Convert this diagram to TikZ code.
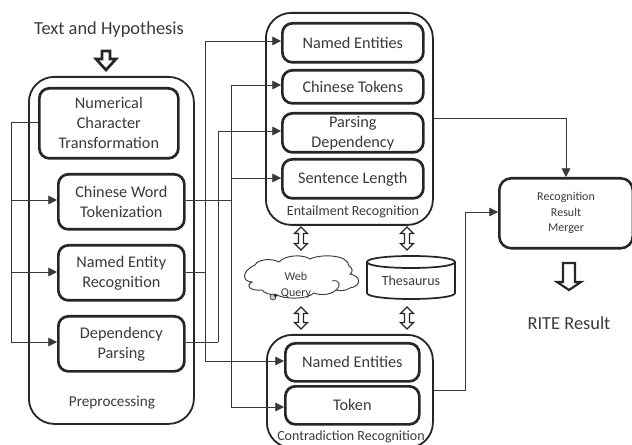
\documentclass[tikz,border=0pt]{standalone}
\usepackage{fontspec}
\setmainfont{Carlito}
\usetikzlibrary{arrows.meta}
\definecolor{ink}{HTML}{262626}
\definecolor{wire}{HTML}{383838}
\definecolor{txt}{HTML}{3A3A3A}
\tikzset{
 x=0.75pt,y=-0.75pt,
 outerbox/.style={draw=ink,line width=1.35pt,rounded corners=19pt,inner sep=0},
 innerbox/.style={draw=ink,line width=2pt,rounded corners=7.5pt,inner sep=0,text=txt,align=center,font=\fontsize{12.2}{15}\selectfont},
 merger/.style={draw=ink,line width=1.9pt,rounded corners=9pt,inner sep=0,text=txt,align=center,font=\fontsize{9}{11.6}\selectfont},
 label/.style={text=txt,inner sep=0,align=center,font=\fontsize{13.8}{16}\selectfont},
 smalllabel/.style={text=txt,inner sep=0,align=center,font=\fontsize{10.5}{12}\selectfont},
 conn/.style={draw=wire,line width=0.6pt},
 arr/.style={conn,-{Triangle[length=6.5pt,width=6.5pt]}},
}
\newcommand{\pxbox}[6]{\node[#1,minimum width=#4*0.75pt,minimum height=#5*0.75pt,anchor=north west] (#2) at (#3) {#6};}
\begin{document}
\begin{tikzpicture}
\useasboundingbox (0,0) rectangle (632,445);
% preprocessing
\pxbox{outerbox}{pre}{28,76}{165}{347}{}
\pxbox{innerbox}{num}{38,87}{139}{70}{Numerical\\Character\\Transformation}
\pxbox{innerbox}{cwt}{57,173}{126}{55}{Chinese Word\\Tokenization}
\pxbox{innerbox}{ner}{57,244}{126}{55}{Named Entity\\Recognition}
\pxbox{innerbox}{dep}{57,315}{126}{55}{Dependency\\Parsing}
\node[smalllabel,font=\fontsize{11.4}{13}\selectfont] (prel) at (112,403) {Preprocessing};
\node[label] (title) at (109,30) {Text and Hypothesis};
% entailment
\pxbox{outerbox}{ent}{265,12}{167}{212}{}
\pxbox{innerbox}{ene}{281,22}{141}{39}{Named Entities}
\pxbox{innerbox}{ect}{281,69}{141}{33}{Chinese Tokens}
\pxbox{innerbox}{epd}{281,112}{141}{39}{Parsing\\Dependency}
\pxbox{innerbox}{esl}{281,158}{141}{39}{Sentence Length}
\node[smalllabel] (entl) at (353,212) {Entailment Recognition};
% contradiction
\pxbox{outerbox}{con}{266,334}{166}{113}{}
\pxbox{innerbox}{cne}{284,342}{134}{38}{Named Entities}
\pxbox{innerbox}{cto}{284,385}{134}{38}{Token}
\node[smalllabel] (conl) at (351,437) {Contradiction Recognition};
% merger
\pxbox{merger}{mrg}{498,177}{133.5}{70}{Recognition\\Result\\Merger}
\node[label] (rite) at (569,323) {RITE Result};
% cloud
\draw[conn,fill=white,line width=0.7pt] (252,282)
 .. controls (243,282) and (240,272) .. (255,265)
 .. controls (258,259) and (272,258) .. (279,262)
 .. controls (285,255) and (303,254) .. (310,259)
 .. controls (320,254) and (348,254) .. (349,266)
 .. controls (353,268) and (353,272) .. (350,274)
 .. controls (361,276) and (362,286) .. (350,288)
 .. controls (346,291) and (340,291) .. (336,290)
 .. controls (330,296) and (318,295) .. (314,293)
 .. controls (306,300) and (284,299) .. (277,295)
 .. controls (270,295) and (264,293) .. (262,290)
 .. controls (250,291) and (245,286) .. (252,282) -- cycle;
\draw[conn,line width=0.6pt] (332,281) .. controls (339,279) and (342,285) .. (336,290);
\node[text=txt,inner sep=0,align=center,font=\fontsize{9}{12}\selectfont] (web) at (296,285) {Web\\Query};
\draw[conn,line width=0.5pt,fill=gray!40] (273,297) circle (3);
\fill[ink] (275.5,295.5) circle (1.8);
% thesaurus
\draw[draw=ink,fill=white,line width=1.3pt] (367,262) -- (367,293) .. controls (367,301) and (455,301) .. (455,293) -- (455,262) .. controls (455,254) and (367,254) .. (367,262) -- cycle;
\draw[draw=ink,line width=1.3pt] (367,262) .. controls (367,270) and (455,270) .. (455,262);
\node[label,font=\fontsize{10.5}{13}\selectfont] (the) at (411,281) {Thesaurus};
% left bus
\coordinate (l1) at (11,122);
\coordinate (l2) at (11,200);
\coordinate (l3) at (11,272);
\coordinate (l4) at (11,342);
\draw[conn] (num.west|-l1) -- (l1) -- (l4);
\draw[arr] (l2) -- (cwt.west|-l2);
\draw[arr] (l3) -- (ner.west|-l3);
\draw[arr] (l4) -- (dep.west|-l4);
% right buses
\coordinate (a1) at (205,41);
\coordinate (a2) at (205,272);
\coordinate (a3) at (205,361);
\coordinate (b1) at (218,131);
\coordinate (b2) at (218,342);
\coordinate (c1) at (231,85);
\coordinate (c2) at (231,178);
\coordinate (c3) at (231,200);
\coordinate (c4) at (231,407);
\draw[conn] (ner.east|-a2) -- (a2);
\draw[arr] (a3) -- (a1) -- (ene.west|-a1);
\draw[arr] (a3) -- (cne.west|-a3);
\draw[conn] (dep.east|-b2) -- (b2);
\draw[arr] (b2) -- (b1) -- (epd.west|-b1);
\draw[conn] (cwt.east|-c3) -- (c3);
\draw[arr] (c4) -- (c1) -- (ect.west|-c1);
\draw[arr] (c2) -- (esl.west|-c2);
\draw[arr] (c4) -- (cto.west|-c4);
% outputs
\coordinate (o1) at (566,118);
\coordinate (o2) at (465,390);
\coordinate (o3) at (465,212);
\draw[arr] (ent.east|-o1) -- (o1) -- (mrg.north-|o1);
\draw[arr] (con.east|-o2) -- (o2) -- (o3) -- (mrg.west|-o3);
% hollow arrows
\draw[draw=ink,line width=2pt,fill=white,line join=miter] (102,51) -- (110,51) -- (110,59) -- (116,59) -- (106,70) -- (96,59) -- (102,59) -- cycle;
\draw[draw=ink,line width=1.6pt,fill=white,line join=miter] (563,263) -- (575,263) -- (575,282) -- (581,282) -- (569,290) -- (557,282) -- (563,282) -- cycle;
\newcommand{\hdbl}[3]{\draw[draw=ink,line width=0.9pt,fill=white] (#1,#2) -- (#1+6.5,#2+6.5) -- (#1+2.5,#2+6.5) -- (#1+2.5,#3-6.5) -- (#1+6.5,#3-6.5) -- (#1,#3) -- (#1-6.5,#3-6.5) -- (#1-2.5,#3-6.5) -- (#1-2.5,#2+6.5) -- (#1-6.5,#2+6.5) -- cycle;}
\hdbl{301}{227}{250}
\hdbl{407}{227}{250}
\hdbl{301}{307}{329}
\hdbl{407}{307}{329}
\end{tikzpicture}
\end{document}
